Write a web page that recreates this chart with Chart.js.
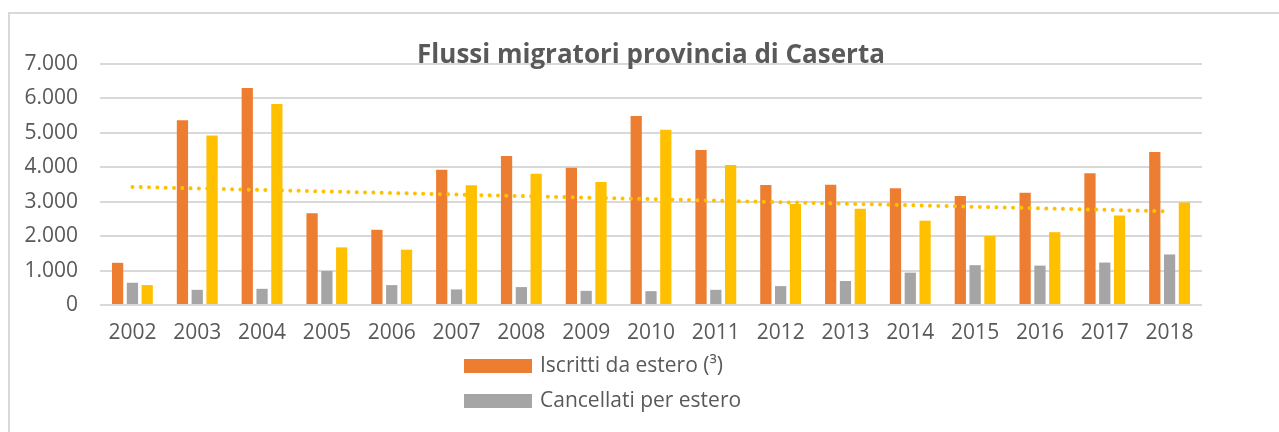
<!DOCTYPE html>
<html>
<head>
<meta charset="utf-8">
<script src="https://cdn.jsdelivr.net/npm/chart.js@4/dist/chart.umd.min.js"></script>
<style>
  html, body { margin: 0; padding: 0; background: #fff; overflow: hidden; }
  #cornice { position: absolute; left: 8px; top: 12px; width: 1400px; height: 600px;
             border-left: 2px solid #D9D9D9; border-top: 2px solid #D9D9D9; }
  #contenitore { position: absolute; left: 0; top: 0; width: 1279px; height: 432px; }
</style>
</head>
<body>
<div id="cornice"></div>
<div id="contenitore"><canvas id="flussi-chart"></canvas></div>
<script>
"use strict";

// dati
const anni = ["2002", "2003", "2004", "2005", "2006", "2007", "2008", "2009", "2010",
              "2011", "2012", "2013", "2014", "2015", "2016", "2017", "2018"];
const iscrittiEstero = [1225, 5366, 6305, 2664, 2185, 3927, 4329, 3985, 5492,
                        4505, 3486, 3495, 3389, 3163, 3260, 3829, 4446];
const cancellatiEstero = [646, 441, 470, 990, 578, 452, 520, 411, 402,
                          441, 549, 696, 940, 1157, 1145, 1233, 1468];
const saldoEstero = [579, 4925, 5835, 1674, 1607, 3475, 3809, 3574, 5090,
                     4064, 2937, 2799, 2449, 2006, 2115, 2596, 2978];
// linea di tendenza: solo gli estremi
const tendenza = [3430, null, null, null, null, null, null, null, null,
                  null, null, null, null, null, null, null, 2720];
const tickY = [0, 1000, 2000, 3000, 4000, 5000, 6000, 7000];

const grigioTesto = "#595959";
const fontBase = "'Open Sans', 'Noto Sans', sans-serif";

const formatoIt = (v) => v.toLocaleString("it-IT").replace(/\u00a0/g, ".");

// titolo e legenda disegnati a mano (legenda su due righe allineate a sinistra)
const testiPlugin = {
  id: "testi",
  afterDraw(chart) {
    const ctx = chart.ctx;
    const area = chart.chartArea;
    ctx.save();
    ctx.fillStyle = grigioTesto;
    ctx.font = "bold 26px " + fontBase;
    ctx.textAlign = "center";
    ctx.textBaseline = "alphabetic";
    ctx.fillText("Flussi migratori provincia di Caserta", (area.left + area.right) / 2, 63);

    const voci = chart.data.datasets.slice(0, 2);
    ctx.font = "21px " + fontBase;
    ctx.textAlign = "left";
    ctx.textBaseline = "middle";
    voci.forEach((ds, i) => {
      const y = 366 + i * 35;
      ctx.fillStyle = ds.backgroundColor;
      ctx.fillRect(464, y - 7, 68, 14);
      ctx.fillStyle = grigioTesto;
      ctx.fillText(ds.label, 540, y);
    });
    ctx.restore();
  }
};

function renderChart(canvasId) {
  const ctx = document.getElementById(canvasId).getContext("2d");
  return new Chart(ctx, {
    type: "bar",
    data: {
      labels: anni,
      datasets: [
        {
          label: "Iscritti da estero (³)",
          data: iscrittiEstero,
          backgroundColor: "#ED7D31",
          barPercentage: 0.76,
          categoryPercentage: 0.685,
          order: 2,
        },
        {
          label: "Cancellati per estero",
          data: cancellatiEstero,
          backgroundColor: "#A5A5A5",
          barPercentage: 0.76,
          categoryPercentage: 0.685,
          order: 2,
        },
        {
          label: "Saldo migratorio con l'estero",
          data: saldoEstero,
          backgroundColor: "#FFC000",
          barPercentage: 0.76,
          categoryPercentage: 0.685,
          order: 2,
        },
        {
          type: "line",
          label: "Lineare (Saldo migratorio con l'estero)",
          data: tendenza,
          spanGaps: true,
          borderColor: "#FFC000",
          borderWidth: 4,
          borderDash: [0.01, 8.3],
          borderCapStyle: "round",
          pointRadius: 0,
          fill: false,
          order: 1,
        },
      ],
    },
    options: {
      responsive: true,
      maintainAspectRatio: false,
      animation: false,
      layout: { padding: { left: 0, right: 77, top: 64, bottom: 77 } },
      plugins: {
        legend: { display: false },
        title: { display: false },
        tooltip: { enabled: false },
      },
      scales: {
        x: {
          grid: { display: false, drawTicks: false },
          border: { display: false },
          ticks: { color: grigioTesto, font: { family: fontBase, size: 21 }, padding: 15,
                   maxRotation: 0, autoSkip: false },
          afterFit(scale) { scale.height = 50; },
        },
        y: {
          min: 0,
          max: 7000,
          afterBuildTicks(scale) { scale.ticks = tickY.map((v) => ({ value: v })); },
          grid: { color: "#D9D9D9", lineWidth: 2, drawTicks: false },
          border: { display: false },
          ticks: { color: grigioTesto, font: { family: fontBase, size: 21 }, padding: 22,
                   callback: (v) => formatoIt(v) },
          afterFit(scale) { scale.width = 100; },
        },
      },
    },
    plugins: [testiPlugin],
  });
}

const flussiChart = renderChart("flussi-chart");
</script>
</body>
</html>
